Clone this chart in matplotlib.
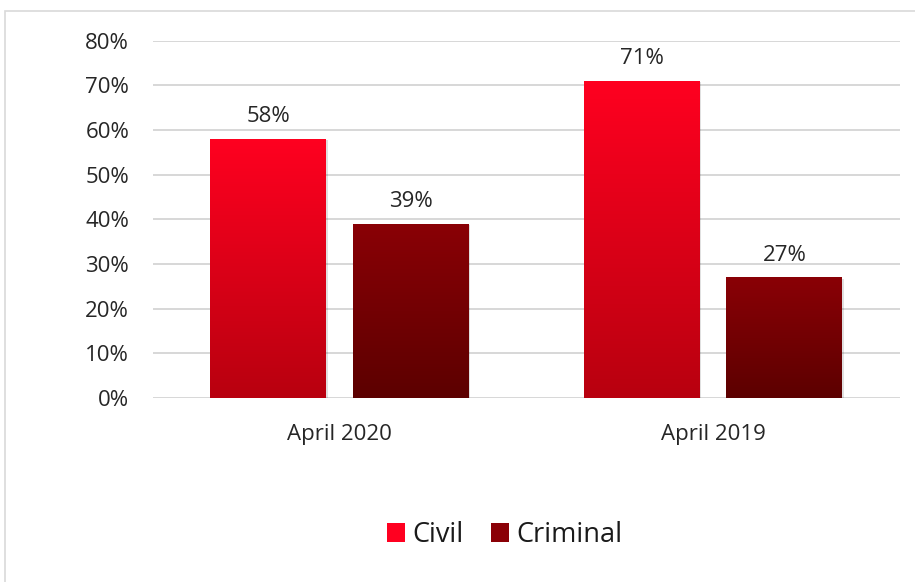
import numpy as np
import matplotlib
matplotlib.use('Agg')
import matplotlib.pyplot as plt
from matplotlib.patches import Rectangle
from matplotlib.colors import LinearSegmentedColormap

plt.rcParams['font.family'] = ['Open Sans', 'DejaVu Sans']

categories = ['April 2020', 'April 2019']
series = ['Civil', 'Criminal']
civil = [0.58, 0.71]
criminal = [0.39, 0.27]
yticks = [0, 0.1, 0.2, 0.3, 0.4, 0.5, 0.6, 0.7, 0.8]

# gradient colors (bottom, top)
grad = {'Civil': ('#b8000f', '#ff0020'), 'Criminal': ('#5c0000', '#8a0006')}

W, H = 915, 582
fig = plt.figure(figsize=(W / 100, H / 100), dpi=100)
fig.patches.append(Rectangle((5 / W, -0.1), 1.2, 1 - 11 / H + 0.1, transform=fig.transFigure,
                             fill=False, edgecolor='#d9d9d9', linewidth=1.2))

ax = fig.add_axes([152.75 / W, (H - 398) / H, (899.75 - 152.75) / W, (398 - 40.7) / H])
x = np.arange(len(categories))
width = 0.31
offset = 0.191

for vals, name, off in [(civil, 'Civil', -offset), (criminal, 'Criminal', offset)]:
    bars = ax.bar(x + off, vals, width, color=grad[name][1], label=name, zorder=2)
    cmap = LinearSegmentedColormap.from_list(name, list(grad[name]))
    for b in bars:
        x0, w, h = b.get_x(), b.get_width(), b.get_height()
        # soft shadow
        ax.add_patch(Rectangle((x0 + 0.004, -0.003), w, h, color='#000000', alpha=0.12,
                               zorder=1.5, linewidth=0))
        img = ax.imshow(np.linspace(0, 1, 256).reshape(-1, 1), cmap=cmap, origin='lower',
                        extent=(x0, x0 + w, 0, h), aspect='auto', zorder=2.5)
        img.set_clip_path(b)
        ax.text(x0 + w / 2, h + 0.05, f'{round(h * 100)}%', ha='center', va='center',
                fontsize=16, color='#262626')

ax.set_xlim(-0.5, 1.5)
ax.set_ylim(0, 0.8)
ax.set_yticks(yticks)
ax.set_yticklabels([f'{int(round(t * 100))}%' for t in yticks])
ax.set_xticks(x)
ax.set_xticklabels(categories)
ax.tick_params(axis='both', length=0, labelsize=16, labelcolor='#262626')
ax.tick_params(axis='y', pad=17)
ax.tick_params(axis='x', pad=19)
ax.grid(axis='y', color='#d4d4d4', linewidth=1.3, zorder=0)
ax.set_axisbelow(True)
for s in ax.spines.values():
    s.set_visible(False)

leg = ax.legend(loc='center', bbox_to_anchor=(505 / W, 1 - 535 / H), bbox_transform=fig.transFigure,
                ncol=2, frameon=False, fontsize=19.5, handlelength=0.65, handleheight=0.65,
                handletextpad=0.3, columnspacing=1.0)
for t in leg.get_texts():
    t.set_color('#1a1a1a')

fig.savefig('out.png', dpi=100)
